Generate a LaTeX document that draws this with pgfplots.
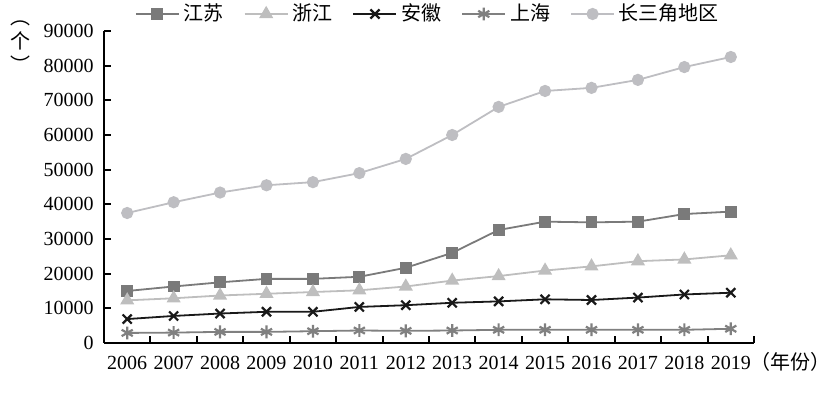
\documentclass[border=0pt]{standalone}
\usepackage{pgfplots}
\pgfplotsset{compat=1.18}
\usepackage{fontspec}
\setmainfont{Liberation Serif}
\newfontfamily\cjk{Noto Sans CJK SC}
\definecolor{cjs}{RGB}{122,122,122}
\definecolor{czj}{RGB}{190,190,190}
\definecolor{cah}{RGB}{25,25,25}
\definecolor{csh}{RGB}{128,128,128}
\definecolor{ccsj}{RGB}{190,190,194}
\begin{document}
\begin{tikzpicture}
\useasboundingbox (-52pt,-25.5pt) rectangle (363.5pt,171.5pt);
\begin{axis}[
  at={(0,0)}, anchor=south west,
  scale only axis, width=325pt, height=156pt,
  xmin=-0.5, xmax=13.5, ymin=0, ymax=90000,
  axis lines=left, axis line style={-, line width=1.2pt, black},
  tick align=inside,
  xtick={0,...,13},
  xticklabels={2006,2007,2008,2009,2010,2011,2012,2013,2014,2015,2016,2017,2018,{2019\rlap{\smash{\cjk （年份）}}}},
  major x tick style={draw=none},
  minor xtick={-0.5,0.5,...,13.5},
  minor tick length=3.5pt, major tick length=3.5pt,
  tick style={line width=1pt, black},
  ytick={0,10000,...,90000},
  scaled y ticks=false,
  yticklabel style={/pgf/number format/fixed, /pgf/number format/set thousands separator={}, xshift=-1.7pt},
  xticklabel style={yshift=-3pt},
  /pgf/number format/assume math mode=true,
  tick label style={font=\fontsize{10}{12}\selectfont},
  clip=false,
  legend style={draw=none, fill=none, at={(axis description cs:0.5,1.0545)}, anchor=center,
     font=\fontsize{10}{12}\selectfont\cjk,
     /tikz/every even column/.append style={column sep=8pt}},
  legend columns=-1,
  legend image code/.code={\draw[mark repeat=2,mark phase=2] plot coordinates {(0pt,0pt)(10.75pt,0pt)(21.5pt,0pt)};},
]
\addplot[color=cjs, line width=0.9pt, mark=square*, mark size=2.5pt, mark options={solid, fill=cjs}] coordinates {
(0,15000)(1,16300)(2,17500)(3,18500)(4,18500)(5,19100)(6,21700)(7,26000)(8,32600)(9,35000)(10,34800)(11,35000)(12,37200)(13,37900)};
\addlegendentry{江苏}
\addplot[color=czj, line width=0.9pt, mark=triangle*, mark size=3.2pt, mark options={solid, fill=czj}] coordinates {
(0,12300)(1,12900)(2,13700)(3,14200)(4,14700)(5,15200)(6,16300)(7,18000)(8,19300)(9,20900)(10,22100)(11,23600)(12,24100)(13,25300)};
\addlegendentry{浙江}
\addplot[color=cah, line width=0.9pt, mark=x, mark size=3.2pt, mark options={solid, line width=1.1pt}] coordinates {
(0,6900)(1,7800)(2,8500)(3,9000)(4,9000)(5,10400)(6,10900)(7,11600)(8,12000)(9,12600)(10,12400)(11,13100)(12,14000)(13,14500)};
\addlegendentry{安徽}
\addplot[color=csh, line width=0.9pt, mark=asterisk, mark size=3.2pt, mark options={solid, line width=1.1pt}] coordinates {
(0,2900)(1,3000)(2,3200)(3,3200)(4,3400)(5,3600)(6,3500)(7,3600)(8,3800)(9,3800)(10,3800)(11,3800)(12,3800)(13,4100)};
\addlegendentry{上海}
\addplot[color=ccsj, line width=0.9pt, mark=*, mark size=2.6pt, mark options={solid, fill=ccsj}] coordinates {
(0,37500)(1,40600)(2,43400)(3,45500)(4,46400)(5,49000)(6,53100)(7,60000)(8,68100)(9,72700)(10,73600)(11,75900)(12,79600)(13,82500)};
\addlegendentry{长三角地区}
\node[font=\fontsize{10}{12}\selectfont\cjk, align=center, inner sep=0pt] at (axis description cs:-0.129,0.95) {︵\\个\\︶};
\end{axis}
\end{tikzpicture}
\end{document}
